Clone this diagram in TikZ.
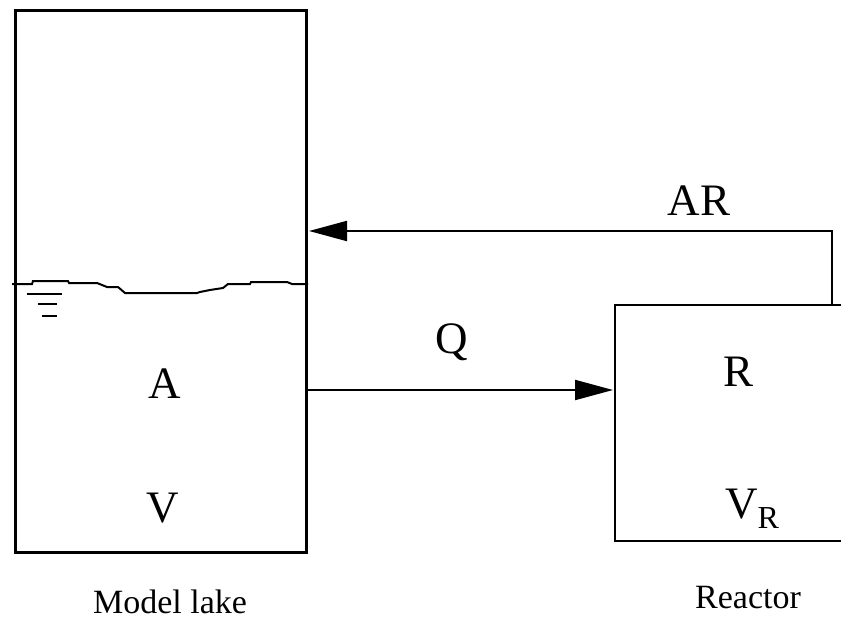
\documentclass[tikz,border=0pt]{standalone}
\usepackage{fontspec}
\setmainfont{Liberation Serif}
\usetikzlibrary{arrows.meta}
\begin{document}
\begin{tikzpicture}[x=1pt,y=-1pt,
  box/.style={line width=2.5pt},
  flow/.style={line width=2pt,-{Triangle[length=38pt,width=20pt]}},
  water/.style={line width=2pt},
  lbl/.style={font=\fontsize{45}{54}\selectfont, inner sep=0, anchor=base},
  caption/.style={font=\fontsize{34}{40}\selectfont, inner sep=0, anchor=base}]
\useasboundingbox (0,0) rectangle (841,621);
% model lake
\node[box, draw, minimum width=291pt, minimum height=542pt, inner sep=0, anchor=north west] (lake) at (14,9) {};
% reactor (open to the right)
\coordinate (rtl) at (615,305);
\coordinate (rbl) at (615,541);
\draw[box] (845,305) -- (rtl) -- (rbl) -- (845,541);
% water surface
\draw[water] (12,284) -- (32,284) -- (33,281) -- (68,281) -- (69,283) -- (97,283) -- (107,287) -- (118,287)
  -- (125,293) -- (197,293) -- (200,292) -- (210,290) -- (223,288) -- (228,284) -- (250,284)
  -- (251,282) -- (287,282) -- (292,284) -- (308,284);
\draw[water] (27,294) -- (62,294);
\draw[water] (38,304) -- (57,304);
\draw[water] (42,316) -- (57,316);
% connectors
\coordinate (qs) at (305,390);
\coordinate (qe) at (613,390);
\draw[flow] (qs) -- (qe);
\coordinate (fb) at (832,305);
\coordinate (fbc) at (832,231);
\coordinate (fbe) at (309,231);
\draw[flow] (fb) -- (fbc) -- (fbe);
% labels
\node[lbl] (A) at (165,398) {A};
\node[lbl] (V) at (163,522) {V};
\node[lbl] (R) at (738,386) {R};
\node[lbl] (VR) at (752,518) {V\raisebox{-10pt}{\fontsize{32}{36}\selectfont R}};
\node[lbl] (Q) at (452,353) {Q};
\node[lbl] (AR) at (699,215) {AR};
\node[caption] (ml) at (170,613) {Model lake};
\node[caption] (re) at (748,608) {Reactor};
\end{tikzpicture}
\end{document}
